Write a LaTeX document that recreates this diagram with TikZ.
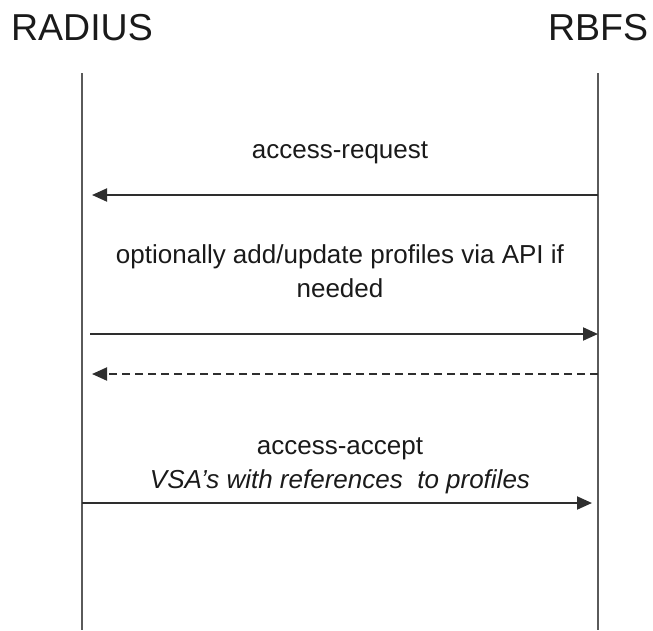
\documentclass[tikz,border=0pt]{standalone}
\usepackage{fontspec}
\setmainfont{Liberation Sans}
\usetikzlibrary{arrows.meta}
\definecolor{lifegray}{HTML}{5A5A5A}
\definecolor{msgdark}{HTML}{2E2E2E}
\definecolor{textdark}{HTML}{1A1A1A}

\begin{document}
\begin{tikzpicture}[x=1pt,y=-1pt,
  head/.style={anchor=base,text=textdark,font=\fontsize{37.5}{40}\selectfont},
  lifeline/.style={lifegray,line width=2.4pt},
  msg/.style={msgdark,line width=2pt,-{Triangle[length=15pt,width=13pt]}},
  reply/.style={msg,dash pattern=on 8pt off 5pt},
  msgtext/.style={anchor=base,align=center,text=textdark,font=\fontsize{26}{33.5}\selectfont}]
  \useasboundingbox (0,0) rectangle (653,630);
  \node[head] (radius) at (82,40) {RADIUS};
  \node[head] (rbfs) at (598,40) {RBFS};
  \coordinate (radiusTop) at (82,73);
  \coordinate (radiusEnd) at (82,630);
  \coordinate (rbfsTop) at (598,73);
  \coordinate (rbfsEnd) at (598,630);
  \draw[lifeline] (radiusTop) -- (radiusEnd);
  \draw[lifeline] (rbfsTop) -- (rbfsEnd);
  \coordinate (reqR) at (598,195);
  \coordinate (reqL) at (92,195);
  \coordinate (updL) at (90,334);
  \coordinate (updR) at (598,334);
  \coordinate (ackR) at (598,374);
  \coordinate (ackL) at (92,374);
  \coordinate (accL) at (82,503);
  \coordinate (accR) at (592,503);
  \node[msgtext] (reqtext) at (340,158) {access-request};
  \node[msgtext] (updtext) at (340,297) {optionally add/update profiles via API if\\needed};
  \node[msgtext] (acctext) at (340,488) {access-accept\\\itshape VSA’s with references\ \ to profiles};
  \draw[msg] (reqR) -- (reqL);
  \draw[msg] (updL) -- (updR);
  \draw[reply] (ackR) -- (ackL);
  \draw[msg] (accL) -- (accR);
\end{tikzpicture}
\end{document}
